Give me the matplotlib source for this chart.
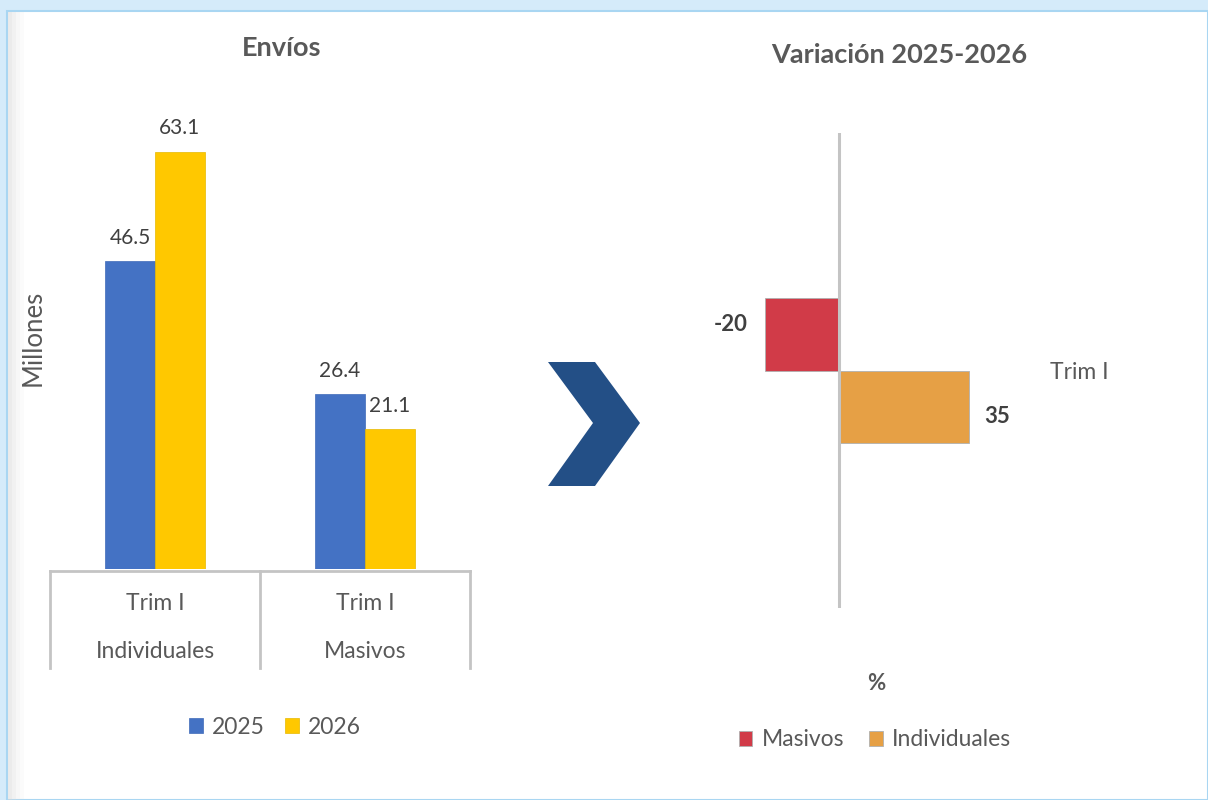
import matplotlib
matplotlib.use('Agg')
import matplotlib.pyplot as plt
from matplotlib.patches import Polygon, Rectangle
import numpy as np

plt.rcParams['font.family'] = ['Lato', 'DejaVu Sans']

# Data
categories = ['Individuales', 'Masivos']
quarter = 'Trim I'
years = ['2025', '2026']
envios_2025 = [46.5, 26.4]
envios_2026 = [63.1, 21.1]

var_series = ['Masivos', 'Individuales']
variacion = [-20, 35]

# Colours
blue = '#4472c4'
yellow = '#ffc800'
red = '#d13b48'
orange = '#e6a045'
gray = '#595959'
dark = '#404040'
line_gray = '#c4c4c4'

W, H = 1208, 800
fig = plt.figure(figsize=(W / 100, H / 100), dpi=100)
fig.patch.set_facecolor('#d5ebfa')


def fx(px):
    return px / W


def fy(py):
    return 1 - py / H


# white panel with light blue border and a soft shadow on the left
fig.patches.append(Rectangle((fx(7), 0), 1 - fx(7), fy(11), transform=fig.transFigure,
                             facecolor='white', edgecolor='#a9d6f2', linewidth=1.5, zorder=-3))
for k, a in enumerate([0.5, 0.35, 0.2, 0.1]):
    fig.patches.append(Rectangle((fx(8 + 4 * k), 0), fx(4), fy(12), transform=fig.transFigure,
                                 facecolor='#d9d9d9', edgecolor='none', zorder=-2, alpha=a))

# ---------- left chart: Envios ----------
ax1 = fig.add_axes([fx(50), fy(569), fx(470) - fx(50), fy(106) - fy(569)])
ax1.patch.set_alpha(0)
x = np.arange(len(categories))
w = 0.238
ax1.bar(x - w / 2, envios_2025, w, color=blue, label=years[0], edgecolor='#3f6ab8', linewidth=0.5)
ax1.bar(x + w / 2, envios_2026, w, color=yellow, label=years[1], edgecolor='#e6b800', linewidth=0.5)
ax1.set_xlim(-0.5, 1.5)
ax1.set_ylim(0, 70)
for i in range(len(categories)):
    ax1.text(x[i] - w / 2, envios_2025[i] + 2.0, f'{envios_2025[i]:.1f}', ha='center', va='bottom',
             fontsize=15, color=dark)
    ax1.text(x[i] + w / 2, envios_2026[i] + 2.0, f'{envios_2026[i]:.1f}', ha='center', va='bottom',
             fontsize=15, color=dark)
for s in ax1.spines.values():
    s.set_visible(False)
ax1.set_xticks([])
ax1.set_yticks([])

# category box below the bars
tr = ax1.get_xaxis_transform()
box_bottom = -0.214
ax1.plot([-0.5, 1.5], [-0.004, -0.004], color=line_gray, lw=2, transform=tr, clip_on=False)
for xv in [-0.5, 0.5, 1.5]:
    ax1.plot([xv, xv], [-0.004, box_bottom], color=line_gray, lw=2, transform=tr, clip_on=False)
for i, c in enumerate(categories):
    ax1.text(x[i], -0.074, quarter, ha='center', va='center', fontsize=16.5, color=gray, transform=tr)
    ax1.text(x[i], -0.179, c, ha='center', va='center', fontsize=16.5, color=gray, transform=tr)

fig.text(fx(282), fy(48), 'Envíos', ha='center', va='center', fontsize=19.5, fontweight='bold', color=gray)
fig.text(fx(33), fy(338), 'Millones', ha='center', va='center', rotation=90, fontsize=18.5, color=gray)
fig.legend(handles=ax1.patches[:1] + ax1.patches[2:3], labels=years, loc='center',
           bbox_to_anchor=(fx(275), fy(727)), ncol=2, frameon=False, fontsize=16.5,
           handlelength=0.6, handleheight=0.6, handletextpad=0.4, columnspacing=0.9,
           labelcolor=gray)

# ---------- chevron ----------
chev = [(548, 362), (595, 362), (640, 423), (595, 486), (548, 486), (593, 423)]
fig.patches.append(Polygon([(fx(a), fy(b)) for a, b in chev], closed=True, transform=fig.transFigure,
                           facecolor='#234f86', edgecolor='none'))

# ---------- right chart: Variacion ----------
ax2 = fig.add_axes([fx(700), fy(608), fx(1040) - fx(700), fy(133) - fy(608)])
ax2.patch.set_alpha(0)
h = 0.152
ypos = [h / 2, -h / 2]
colors = [red, orange]
bars = ax2.barh(ypos, variacion, h, color=colors, edgecolor='#b0b0b0', linewidth=0.6)
ax2.set_xlim(-37.6, 54.3)
ax2.set_ylim(-0.5, 0.5)
ax2.axvline(0, color=line_gray, lw=2.2, zorder=3)
for yv, v in zip(ypos, variacion):
    if v < 0:
        ax2.text(v - 4.8, yv + 0.02, f'{v}', ha='right', va='center', fontsize=16,
                 fontweight='bold', color=dark)
    else:
        ax2.text(v + 4.3, yv - 0.02, f'{v}', ha='left', va='center', fontsize=16,
                 fontweight='bold', color=dark)
for s in ax2.spines.values():
    s.set_visible(False)
ax2.set_xticks([])
ax2.yaxis.tick_right()
ax2.set_yticks([0])
ax2.set_yticklabels([quarter], fontsize=16.5, color=gray)
ax2.tick_params(axis='y', length=0, pad=7)

fig.text(fx(899), fy(55), 'Variación 2025-2026', ha='center', va='center', fontsize=19.5,
         fontweight='bold', color=gray)
fig.text(fx(876), fy(684), '%', ha='center', va='center', fontsize=16, fontweight='bold', color=gray)
fig.legend(handles=list(bars), labels=var_series, loc='center',
           bbox_to_anchor=(fx(875), fy(740)), ncol=2, frameon=False, fontsize=16.5,
           handlelength=0.6, handleheight=0.6, handletextpad=0.4, columnspacing=1.1,
           labelcolor=gray)

fig.savefig('out.png', dpi=100)
